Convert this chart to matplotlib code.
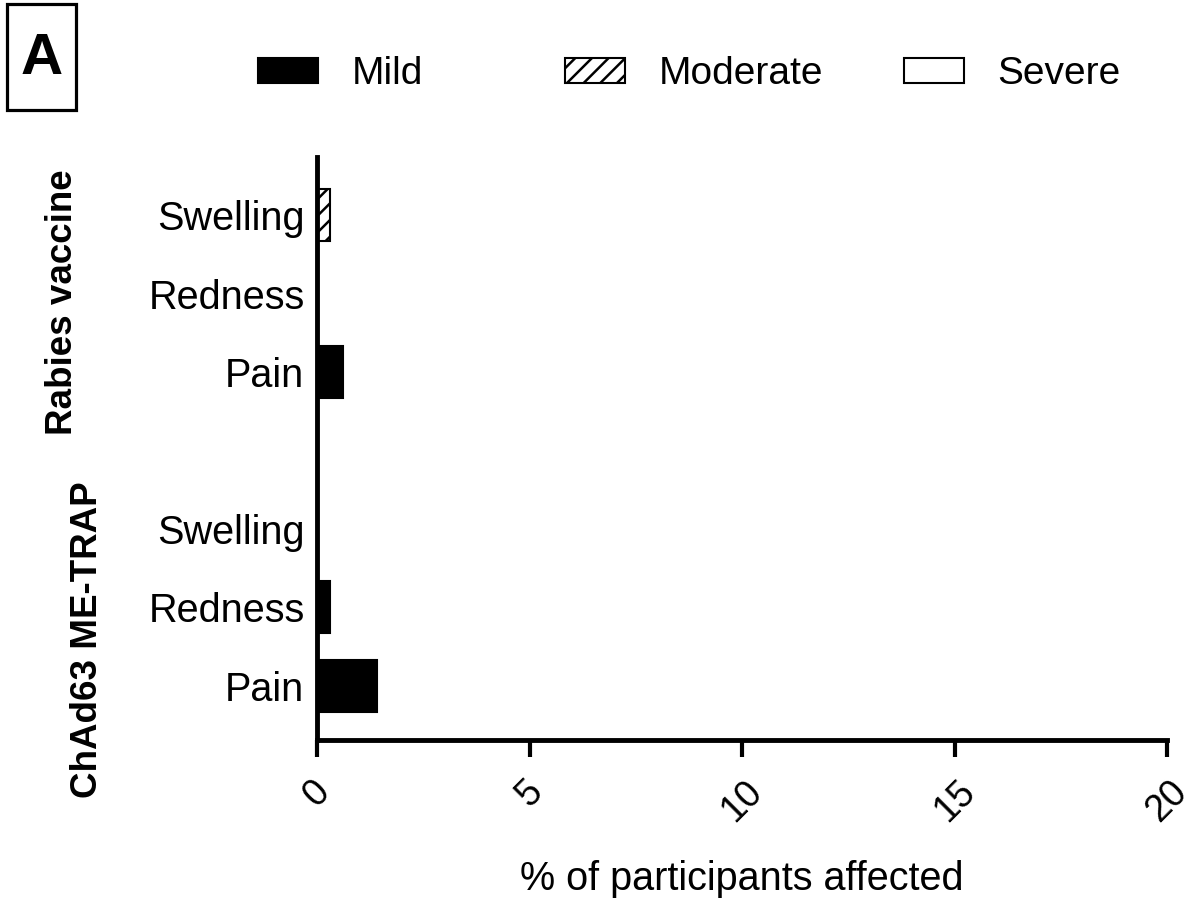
import matplotlib
matplotlib.use("Agg")
import matplotlib.pyplot as plt
from matplotlib.patches import Patch, Rectangle
import numpy as np

plt.rcParams['font.family'] = ['Liberation Sans', 'DejaVu Sans']
plt.rcParams['hatch.linewidth'] = 1.8

categories = ["Pain", "Redness", "Swelling", "Pain", "Redness", "Swelling"]
groups = ["ChAd63 ME-TRAP", "Rabies vaccine"]
positions = [0, 1, 2, 4, 5, 6]
mild = [1.4, 0.3, 0.0, 0.6, 0.0, 0.0]
moderate = [0.0, 0.0, 0.0, 0.0, 0.0, 0.3]
severe = [0.0, 0.0, 0.0, 0.0, 0.0, 0.0]
xticks = [0, 5, 10, 15, 20]
legend_labels = ["Mild", "Moderate", "Severe"]

W, H = 1193, 901
fig = plt.figure(figsize=(W / 100, H / 100), dpi=100)
ax = fig.add_axes([317 / W, 1 - 740 / H, (1167 - 317) / W, (740 - 157) / H])

h = 0.66
mild_a = np.array(mild)
mod_a = np.array(moderate)
sev_a = np.array(severe)
for p, m, mo, s in zip(positions, mild_a, mod_a, sev_a):
    if m > 0:
        ax.barh(p, m, height=h, color='black', edgecolor='black', linewidth=1.5)
    if mo > 0:
        ax.barh(p, mo, left=m, height=h, color='white', edgecolor='black', hatch='//', linewidth=1.5)
    if s > 0:
        ax.barh(p, s, left=m + mo, height=h, color='white', edgecolor='black', linewidth=1.5)

ax.set_xlim(0, 20)
ax.set_ylim(-0.69, 6.74)
ax.set_yticks(positions)
ax.set_yticklabels(categories, fontsize=28.5)
ax.tick_params(axis='y', length=0, pad=9)
ax.set_xticks(xticks)
ax.set_xticklabels([str(t) for t in xticks], fontsize=27, rotation=45, ha='center', va='top')
ax.tick_params(axis='x', length=12, width=3, pad=12)
for sp in ['top', 'right']:
    ax.spines[sp].set_visible(False)
for sp in ['left', 'bottom']:
    ax.spines[sp].set_linewidth(3.5)
ax.set_xlabel("% of participants affected", fontsize=28.5, labelpad=23)

# group labels
fig.text(63 / W, 1 - 302 / H, groups[1], rotation=90, fontsize=26.5, fontweight='bold', ha='center', va='center')
fig.text(88 / W, 1 - 640 / H, groups[0], rotation=90, fontsize=26.5, fontweight='bold', ha='center', va='center')

# legend (one entry each, placed at the reference positions)
handles = [Patch(facecolor='black', edgecolor='black', linewidth=1.5),
           Patch(facecolor='white', edgecolor='black', hatch='//', linewidth=1.5),
           Patch(facecolor='white', edgecolor='black', linewidth=1.5)]
handle_x = [258, 565, 904]
for hd, lab, hx in zip(handles, legend_labels, handle_x):
    fig.legend([hd], [lab], loc='center left', bbox_to_anchor=(hx / W, 1 - 74 / H),
               frameon=False, fontsize=28, handlelength=1.54, handleheight=0.62,
               handletextpad=0.87, borderpad=0, borderaxespad=0)

# panel label
fig.add_artist(Rectangle((7 / W, 1 - 110 / H), 69 / W, 106 / H, transform=fig.transFigure,
                         facecolor='white', edgecolor='black', linewidth=2.3))
fig.text(41.5 / W, 1 - 59 / H, "A", fontsize=42, fontweight='bold', ha='center', va='center')

fig.savefig("out.png", dpi=100)
